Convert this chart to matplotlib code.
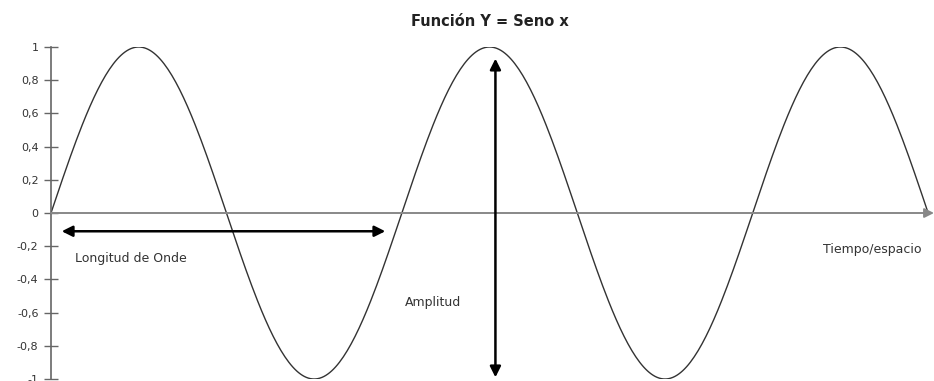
import numpy as np
import matplotlib.pyplot as plt

plt.rcParams['font.family'] = ['DejaVu Sans']

# angle in degrees, two and a half periods
angles = np.arange(0, 901, 2)
seno = np.sin(np.radians(angles))

yticks = [-1, -0.8, -0.6, -0.4, -0.2, 0, 0.2, 0.4, 0.6, 0.8, 1]
ytick_labels = ['-1', '-0,8', '-0,6', '-0,4', '-0,2', '0', '0,2', '0,4', '0,6', '0,8', '1']

# annotation arrows: (start, end) in data units
longitud_x = (11, 343)
longitud_y = -0.11
amplitud_x = 456
amplitud_y = (0.93, -0.99)


def main():
    fig = plt.figure(figsize=(9.34, 3.81), dpi=100)
    ax = fig.add_axes([51 / 934, 2 / 381, 883 / 934, 332 / 381])

    ax.plot(angles, seno, color='#333333', lw=1.0)

    ax.set_xlim(0, 906)
    ax.set_ylim(-1, 1)

    # only the left spine is kept, the x axis is drawn as an arrow
    for side in ['top', 'right', 'bottom']:
        ax.spines[side].set_visible(False)
    ax.spines['left'].set_color('#666666')
    ax.spines['left'].set_linewidth(1.2)
    ax.set_xticks([])
    ax.set_yticks(yticks)
    ax.set_yticklabels(ytick_labels)
    ax.tick_params(axis='y', direction='inout', length=10, width=1.0,
                   colors='#666666', labelcolor='#333333', labelsize=8, pad=4)

    ax.annotate('', xy=(906, 0), xytext=(0, 0), annotation_clip=False,
                arrowprops=dict(arrowstyle='-|>', color='#888888', lw=1.4,
                                mutation_scale=14, shrinkA=0, shrinkB=0))

    ax.annotate('', xy=(longitud_x[1], longitud_y), xytext=(longitud_x[0], longitud_y),
                arrowprops=dict(arrowstyle='<|-|>', color='black', lw=1.8,
                                mutation_scale=16, shrinkA=0, shrinkB=0))
    ax.annotate('', xy=(amplitud_x, amplitud_y[1]), xytext=(amplitud_x, amplitud_y[0]),
                annotation_clip=False,
                arrowprops=dict(arrowstyle='<|-|>', color='black', lw=1.8,
                                mutation_scale=16, shrinkA=0, shrinkB=0))

    ax.text(25, -0.277, 'Longitud de Onde', fontsize=9, color='#333333', va='center')
    ax.text(363, -0.54, 'Amplitud', fontsize=9, color='#333333', va='center')
    ax.text(792, -0.22, 'Tiempo/espacio', fontsize=9, color='#333333', va='center')

    fig.text(490 / 934, 1 - 22 / 381, 'Función Y = Seno x', fontsize=10.5,
             fontweight='bold', color='#222222', ha='center', va='center')

    fig.savefig('out.png', dpi=100)


if __name__ == "__main__":
    main()
